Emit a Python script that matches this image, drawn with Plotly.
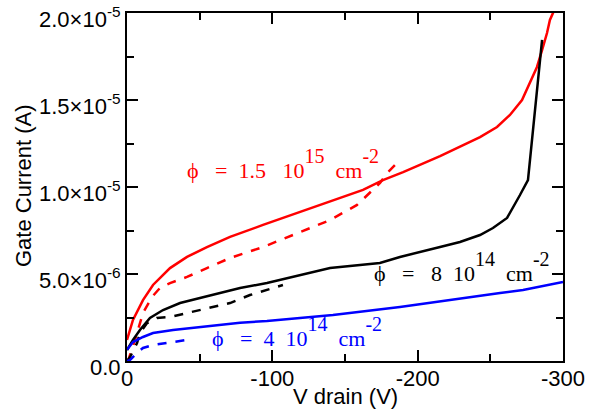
import plotly.graph_objects as go

# ---- data (V drain in V, gate current in A) ----
red_solid_v = [0, -4.1, -11, -17.9, -29.6, -41.3, -55, -70.9, -93.6, -117, -139.7, -162.4, -176.1, -190, -215.4, -229.1, -242.9, -254.6, -263.5, -271.8, -277.3, -282.1, -285.6, -289, -291, -293.1, -294.5]
red_solid_i = [1.21e-6, 2.36e-6, 3.5e-6, 4.37e-6, 5.34e-6, 5.98e-6, 6.55e-6, 7.13e-6, 7.82e-6, 8.51e-6, 9.14e-6, 9.83e-6, 10.4e-6, 10.86e-6, 11.78e-6, 12.3e-6, 12.87e-6, 13.45e-6, 14.14e-6, 15.0e-6, 15.98e-6, 16.9e-6, 17.87e-6, 18.85e-6, 19.6e-6, 20.0e-6, 20.6e-6]

red_dash_v = [0, -0.7, -5.5, -11, -17.2, -22.7, -29.6, -41.3, -55, -70.9, -93.6, -117, -139.7, -158.3, -167.2, -174.1, -178.9, -185.8]
red_dash_i = [0, 0, 1.21e-6, 2.76e-6, 3.68e-6, 4.2e-6, 4.48e-6, 4.83e-6, 5.34e-6, 5.92e-6, 6.55e-6, 7.36e-6, 8.1e-6, 8.97e-6, 9.66e-6, 10.23e-6, 10.8e-6, 11.38e-6]

black_solid_v = [0, -4.1, -8.9, -15.8, -24.8, -36.5, -50.2, -64, -77.8, -96.3, -139.7, -174, -187.8, -215.4, -229.1, -242.9, -251.8, -261.5, -265.6, -270.4, -275.9, -285.6]
black_solid_i = [0.63e-6, 1.21e-6, 1.78e-6, 2.47e-6, 2.93e-6, 3.33e-6, 3.62e-6, 3.91e-6, 4.2e-6, 4.48e-6, 5.34e-6, 5.63e-6, 5.98e-6, 6.55e-6, 6.84e-6, 7.24e-6, 7.64e-6, 8.22e-6, 8.79e-6, 9.54e-6, 10.4e-6, 18.45e-6]

black_dash_v = [0, -2.1, -6.9, -8.9, -13.8, -20.6, -29.6, -41.3, -55, -70.9, -84.6, -107.3]
black_dash_i = [0, 0.23e-6, 1.03e-6, 1.61e-6, 2.18e-6, 2.47e-6, 2.53e-6, 2.76e-6, 3.05e-6, 3.33e-6, 3.79e-6, 4.37e-6]

blue_solid_v = [0, -4.1, -11, -17.9, -31.7, -52.3, -77.8, -96.3, -141.7, -187.8, -229, -256.7, -272.5, -300]
blue_solid_i = [0.65e-6, 1.09e-6, 1.38e-6, 1.61e-6, 1.78e-6, 1.95e-6, 2.2e-6, 2.3e-6, 2.64e-6, 3.1e-6, 3.6e-6, 3.91e-6, 4.08e-6, 4.54e-6]

blue_dash_v = [0, -2.1, -6.9, -11, -17.9, -31.7, -45.4]
blue_dash_i = [0, 0.06e-6, 0.46e-6, 0.75e-6, 0.92e-6, 1.09e-6, 1.26e-6]

y_tick_vals = [0, 5e-6, 1e-5, 1.5e-5, 2e-5]
y_tick_text = ["0.0", "5.0×10<sup>-6</sup>", "1.0×10<sup>-5</sup>", "1.5×10<sup>-5</sup>", "2.0×10<sup>-5</sup>"]
x_tick_vals = [0, -100, -200, -300]
x_tick_text = ["0", "-100", "-200", "-300"]

x_title = "V drain (V)"
y_title = "Gate Current (A)"

NB = "\u00a0"
def sup(t):
    return "<span style='font-size:36px'><sup><span style='font-size:20px'>" + t + "</span></sup></span>"

labels = [
    ("ϕ" + NB * 3 + "=" + NB * 2 + "1.5" + NB * 3 + "10" + sup("15") + NB * 2 + "cm" + sup("-2"), -40, 1.135e-5, "red"),
    ("ϕ" + NB * 3 + "=" + NB * 3 + "8" + NB * 2 + "10" + sup("14") + NB * 2 + "cm" + sup("-2"), -168.6, 5.39e-6, "black"),
    ("ϕ" + NB * 3 + "=" + NB * 2 + "4" + NB * 2 + "10" + sup("14") + NB * 2 + "cm" + sup("-2"), -57, 1.69e-6, "blue"),
]

fig = go.Figure()
series = [
    (red_solid_v, red_solid_i, "red", "solid"),
    (red_dash_v, red_dash_i, "red", "dash"),
    (black_solid_v, black_solid_i, "black", "solid"),
    (black_dash_v, black_dash_i, "black", "dash"),
    (blue_solid_v, blue_solid_i, "blue", "solid"),
    (blue_dash_v, blue_dash_i, "blue", "dash"),
]
for xv, yv, c, d in series:
    fig.add_trace(go.Scatter(x=xv, y=yv, mode="lines",
                             line=dict(color=c, width=2.5, dash=d),
                             showlegend=False, cliponaxis=True))

for txt, x, y, c in labels:
    fig.add_annotation(x=x, y=y, text=txt, showarrow=False, xanchor="left", yanchor="middle",
                       font=dict(family="Liberation Serif", size=22, color=c))

title_font = dict(family="Liberation Sans", size=22, color="black")
fig.add_annotation(xref="paper", yref="paper", x=0.5, y=-0.103, text=x_title, showarrow=False,
                   xanchor="center", yanchor="middle", font=title_font)
fig.add_annotation(xref="paper", yref="paper", x=-0.236, y=0.503, text=y_title, showarrow=False,
                   textangle=-90, xanchor="center", yanchor="middle", font=title_font)

axis_common = dict(showgrid=False, zeroline=False, showline=True, linecolor="black", linewidth=2,
                   mirror="allticks", ticks="inside", ticklen=11, tickwidth=1.5, tickcolor="black",
                   ticklabeloverflow="allow", automargin=False,
                   tickfont=dict(family="Liberation Sans", size=22, color="black"))

fig.update_xaxes(range=[0, -300], tickvals=x_tick_vals, ticktext=x_tick_text, ticklabelstandoff=-3,
                 minor=dict(dtick=50, tick0=0, ticks="inside", ticklen=7, tickcolor="black", tickwidth=1.5),
                 **axis_common)
fig.update_yaxes(range=[0, 2e-5], tickvals=y_tick_vals, ticktext=y_tick_text, ticklabelshift=6,
                 minor=dict(dtick=2.5e-6, tick0=0, ticks="inside", ticklen=7, tickcolor="black", tickwidth=1.5),
                 **axis_common)

fig.update_layout(width=589, height=415, margin=dict(l=127, r=26, t=13, b=54),
                  plot_bgcolor="white", paper_bgcolor="white")
fig.write_html("out.html")
